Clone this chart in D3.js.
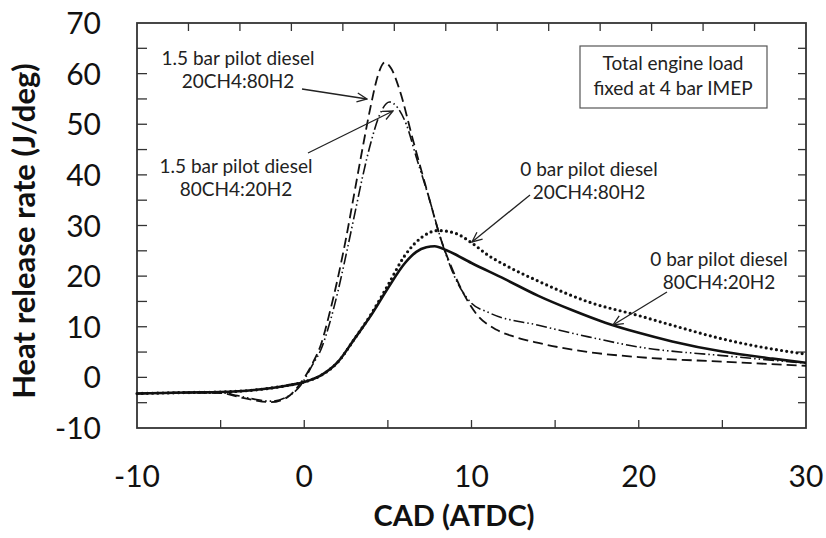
<!DOCTYPE html>
<html>
<head>
<meta charset="utf-8">
<script src="https://cdn.jsdelivr.net/npm/d3@7"></script>
<style>
  body { margin: 0; background: #fff; }
  svg { display: block; font-family: Lato, "Open Sans", sans-serif; }
</style>
</head>
<body>
<div id="chart"></div>
<script>
// Heat release rate vs crank angle, four operating points
var xTicks = [-10, 0, 10, 20, 30];
var yTicks = [-10, 0, 10, 20, 30, 40, 50, 60, 70];

// 0 bar pilot diesel, 80CH4:20H2 (solid)
var solid0 = [[-10,-3.2],[-7,-3.0],[-5,-2.9],[-3,-2.5],[-1,-1.6],[0,-0.9],[1,0.4],[2,3.0],[3,7.6],[4,12.3],[5,17.6],[6,22.5],[6.7,24.8],[7.3,25.7],[7.8,25.9],[8.5,25.1],[10,22.6],[12,19.4],[14,16.1],[16,13.3],[18,10.8],[20,8.8],[22,7.1],[25,5.1],[28,3.7],[30,2.9]];
// 0 bar pilot diesel, 20CH4:80H2 (dotted)
var dotted0 = [[-10,-3.2],[-7,-3.0],[-5,-2.9],[-3,-2.5],[-1,-1.6],[0,-0.9],[1,0.4],[2,3.0],[3,7.6],[4,12.5],[5,18.2],[6,24.0],[7,27.6],[8,29.0],[9,28.5],[10,26.6],[11,24.1],[12,22.2],[14,19.0],[17,14.9],[20,12.2],[22,10.3],[25,7.6],[28,5.6],[30,4.6]];
// 1.5 bar pilot diesel, 20CH4:80H2 (dashed)
var dashed15 = [[-10,-3.2],[-7,-3.0],[-5,-3.1],[-4,-3.8],[-3,-4.5],[-2,-4.9],[-1,-3.9],[-0.3,-1.5],[0.5,2.8],[1,6.5],[1.5,12.5],[2,19.5],[2.5,27.5],[3,36.5],[3.5,45.5],[4,54.0],[4.4,59.6],[4.8,62.2],[5.2,61.0],[5.7,56.8],[6.5,46.9],[7.5,35.0],[8.1,28.0],[8.9,21.0],[9.7,15.5],[10.3,12.5],[11.5,9.4],[12.5,8.1],[14,6.8],[17,5.0],[20,4.0],[25,3.1],[30,2.3]];
// 1.5 bar pilot diesel, 80CH4:20H2 (dash-dot-dot)
var dashdot15 = [[-10,-3.2],[-7,-3.0],[-5,-3.0],[-4,-3.6],[-3,-4.3],[-2,-4.7],[-1,-3.8],[-0.2,-1.5],[0.5,2.5],[1,5.5],[1.5,10.5],[2,16.8],[2.5,24.2],[3,32.0],[3.5,39.8],[4,46.6],[4.5,51.8],[5.1,54.4],[5.6,53.2],[6.1,50.0],[6.7,43.5],[7.5,35.0],[8.2,27.0],[9,19.8],[9.9,15.0],[11.1,12.7],[14,10.3],[17,8.0],[20,6.0],[25,4.3],[30,2.8]];

var series = [
  { data: dashed15,  width: 1.8, dash: "10,5", cap: "butt" },
  { data: dashdot15, width: 1.6, dash: "11,3,1.5,3,1.5,3", cap: "butt" },
  { data: dotted0,   width: 3.2, dash: "0,5.2", cap: "round" },
  { data: solid0,    width: 2.6, dash: null, cap: "butt" }
];

var notes = [
  { lines: ["1.5 bar pilot diesel", "20CH4:80H2"], tx: 238, ty: 65, a: [302, 89], b: [367, 99] },
  { lines: ["1.5 bar pilot diesel", "80CH4:20H2"], tx: 236, ty: 173, a: [308, 153], b: [393, 111] },
  { lines: ["0 bar pilot diesel", "20CH4:80H2"], tx: 589, ty: 176, a: [530, 195], b: [472, 242] },
  { lines: ["0 bar pilot diesel", "80CH4:20H2"], tx: 719, ty: 266, a: [667, 292], b: [613, 325] }
];

var W = 826, H = 538;
var m = { left: 137, right: 806, top: 23, bottom: 428 };

var svg = d3.select("#chart").append("svg")
  .attr("width", W)
  .attr("height", H);

var x = d3.scaleLinear().domain([-10, 30]).range([m.left, m.right]);
var y = d3.scaleLinear().domain([-10, 70]).range([m.bottom, m.top]);
// secondary top axis has 13 unlabeled divisions
var xTop = d3.scaleLinear().domain([0, 13]).range([m.left, m.right]);

var axisColor = "#333";

// inner ticks
var g = svg.append("g").attr("stroke", axisColor).attr("stroke-width", 1.3);
d3.range(-5, 30, 5).forEach(function(v) {
  g.append("line").attr("x1", x(v)).attr("x2", x(v)).attr("y1", m.bottom).attr("y2", m.bottom - 8);
});
d3.range(1, 13).forEach(function(v) {
  g.append("line").attr("x1", xTop(v)).attr("x2", xTop(v)).attr("y1", m.top).attr("y2", m.top + 8);
});
d3.range(-5, 70, 5).forEach(function(v) {
  g.append("line").attr("x1", m.left).attr("x2", m.left + 10).attr("y1", y(v)).attr("y2", y(v));
  g.append("line").attr("x1", m.right).attr("x2", m.right - 8).attr("y1", y(v)).attr("y2", y(v));
});

svg.append("rect")
  .attr("x", m.left).attr("y", m.top)
  .attr("width", m.right - m.left).attr("height", m.bottom - m.top)
  .attr("fill", "none").attr("stroke", axisColor).attr("stroke-width", 1.8);

// tick labels
svg.selectAll(".xt").data(xTicks).enter().append("text")
  .attr("x", function(d) { return x(d); })
  .attr("y", 487)
  .attr("text-anchor", "middle")
  .attr("font-size", 30)
  .attr("fill", "#111")
  .text(function(d) { return d; });

svg.selectAll(".yt").data(yTicks).enter().append("text")
  .attr("x", 101)
  .attr("y", function(d) { return y(d) + 11; })
  .attr("text-anchor", "end")
  .attr("font-size", 30)
  .attr("fill", "#111")
  .text(function(d) { return d; });

// axis titles
svg.append("text")
  .attr("x", 454).attr("y", 526)
  .attr("text-anchor", "middle")
  .attr("font-size", 29).attr("font-weight", "bold")
  .attr("fill", "#111")
  .text("CAD (ATDC)");

svg.append("text")
  .attr("transform", "translate(35,231) rotate(-90)")
  .attr("text-anchor", "middle")
  .attr("font-size", 31).attr("font-weight", "bold")
  .attr("fill", "#111")
  .text("Heat release rate (J/deg)");

// curves
var line = d3.line()
  .x(function(d) { return x(d[0]); })
  .y(function(d) { return y(d[1]); })
  .curve(d3.curveMonotoneX);

svg.append("g").selectAll("path").data(series).enter().append("path")
  .attr("d", function(s) { return line(s.data); })
  .attr("fill", "none")
  .attr("stroke", "#111")
  .attr("stroke-width", function(s) { return s.width; })
  .attr("stroke-dasharray", function(s) { return s.dash; })
  .attr("stroke-linecap", function(s) { return s.cap; });

// arrow marker
svg.append("defs").append("marker")
  .attr("id", "arr")
  .attr("viewBox", "0 0 12 12")
  .attr("refX", 11).attr("refY", 6)
  .attr("markerWidth", 12).attr("markerHeight", 12)
  .attr("markerUnits", "userSpaceOnUse")
  .attr("orient", "auto")
  .append("path")
  .attr("d", "M1,1.5 L11,6 L1,10.5")
  .attr("fill", "none")
  .attr("stroke", "#222")
  .attr("stroke-width", 1.3);

var ng = svg.append("g");
notes.forEach(function(n) {
  ng.append("line")
    .attr("x1", n.a[0]).attr("y1", n.a[1])
    .attr("x2", n.b[0]).attr("y2", n.b[1])
    .attr("stroke", "#222").attr("stroke-width", 1.3)
    .attr("marker-end", "url(#arr)");
  n.lines.forEach(function(t, i) {
    ng.append("text")
      .attr("x", n.tx).attr("y", n.ty + i * 23)
      .attr("text-anchor", "middle")
      .attr("font-size", 19)
      .attr("fill", "#222")
      .text(t);
  });
});

// load box
svg.append("rect")
  .attr("x", 580).attr("y", 46).attr("width", 187).attr("height", 62)
  .attr("fill", "#fff").attr("stroke", "#555").attr("stroke-width", 1.2);
["Total engine load", "fixed at 4 bar IMEP"].forEach(function(t, i) {
  svg.append("text")
    .attr("x", 673).attr("y", 70 + i * 25)
    .attr("text-anchor", "middle")
    .attr("font-size", 19)
    .attr("fill", "#222")
    .text(t);
});
</script>
</body>
</html>
